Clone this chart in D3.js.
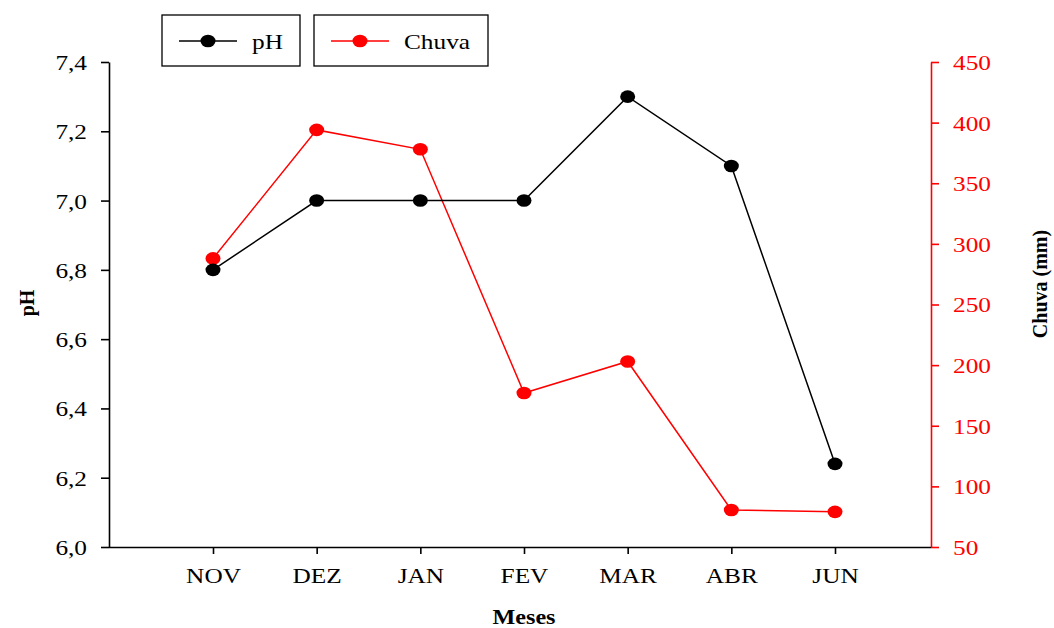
<!DOCTYPE html>
<html>
<head>
<meta charset="utf-8">
<script src="https://cdn.jsdelivr.net/npm/d3@7"></script>
<style>
  html, body { margin: 0; padding: 0; background: #fff; }
  svg { display: block; }
  text { font-family: "Liberation Serif", "Times New Roman", serif; }
</style>
</head>
<body>
<svg id="chart" width="1054" height="628"></svg>
<script>
// Monthly pH and rainfall
const months = ["NOV", "DEZ", "JAN", "FEV", "MAR", "ABR", "JUN"];
const phValues = [6.8, 7.0, 7.0, 7.0, 7.3, 7.1, 6.24];
const chuvaValues = [288, 394, 378, 177, 203, 80.5, 79];
const phTicks = [6.0, 6.2, 6.4, 6.6, 6.8, 7.0, 7.2, 7.4];
const chuvaTicks = [50, 100, 150, 200, 250, 300, 350, 400, 450];

const svg = d3.select("#chart");
const plotLeft = 109, plotRight = 931, plotTop = 62, plotBottom = 547;
const stretch = 1.15;      // wide glyph rendering
const fontSize = 22;
const red = "#ff0000";

// x: month index positions along the bottom axis
const x = d3.scaleLinear().domain([0, 6]).range([213, 835]);
const yPh = d3.scaleLinear().domain([6.0, 7.4]).range([plotBottom, plotTop]);
const yChuva = d3.scaleLinear().domain([50, 450]).range([plotBottom, plotTop]);

const fmtPh = d => d3.format(".1f")(d).replace(".", ",");

// Left axis (pH)
const gL = svg.append("g").attr("transform", `translate(${plotLeft},0)`)
  .call(d3.axisLeft(yPh).tickValues(phTicks).tickFormat(fmtPh).tickSize(8).tickSizeOuter(0));
gL.select(".domain").attr("stroke", "#000").attr("stroke-width", 1.6);
gL.selectAll(".tick line").attr("stroke", "#000").attr("stroke-width", 1.6);
gL.selectAll(".tick text")
  .attr("x", null).attr("dy", "0.34em")
  .attr("transform", `translate(-22,0) scale(${stretch},1)`)
  .attr("text-anchor", "end")
  .attr("font-size", fontSize).attr("fill", "#000");

// Right axis (Chuva)
const gR = svg.append("g").attr("transform", `translate(${plotRight},0)`)
  .call(d3.axisRight(yChuva).tickValues(chuvaTicks).tickFormat(d3.format("d")).tickSize(8).tickSizeOuter(0));
gR.select(".domain").attr("stroke", red).attr("stroke-width", 1.6);
gR.selectAll(".tick line").attr("stroke", red).attr("stroke-width", 1.6);
gR.selectAll(".tick text")
  .attr("x", null).attr("dy", "0.34em")
  .attr("transform", `translate(22,0) scale(${stretch},1)`)
  .attr("text-anchor", "start")
  .attr("font-size", fontSize).attr("fill", red);

// Bottom axis (months)
const gB = svg.append("g").attr("transform", `translate(0,${plotBottom})`)
  .call(d3.axisBottom(x).tickValues(d3.range(months.length)).tickFormat(i => months[i]).tickSize(7).tickSizeOuter(0));
gB.select(".domain").attr("d", `M${plotLeft},0.5H${plotRight}`).attr("stroke", "#000").attr("stroke-width", 1.6);
gB.selectAll(".tick line").attr("stroke", "#000").attr("stroke-width", 1.6);
gB.selectAll(".tick text")
  .attr("y", null).attr("dy", null)
  .attr("transform", `translate(0,36) scale(${stretch},1)`)
  .attr("text-anchor", "middle")
  .attr("font-size", fontSize).attr("fill", "#000");

// Series lines and markers
function drawSeries(values, yScale, color) {
  const line = d3.line().x((d, i) => x(i)).y(d => yScale(d));
  svg.append("path").datum(values)
    .attr("d", line).attr("fill", "none")
    .attr("stroke", color).attr("stroke-width", 1.5);
  svg.append("g").selectAll("ellipse").data(values).join("ellipse")
    .attr("cx", (d, i) => x(i)).attr("cy", d => yScale(d))
    .attr("rx", 7.5).attr("ry", 6.3).attr("fill", color);
}
drawSeries(chuvaValues, yChuva, red);
drawSeries(phValues, yPh, "#000");

// Axis titles
svg.append("text")
  .attr("transform", `translate(524,624) scale(${stretch},1)`)
  .attr("text-anchor", "middle").attr("font-weight", "bold").attr("font-size", 21)
  .text("Meses");
svg.append("text")
  .attr("transform", `translate(34,303) rotate(-90)`)
  .attr("text-anchor", "middle").attr("font-weight", "bold").attr("font-size", 20)
  .text("pH");
svg.append("text")
  .attr("transform", `translate(1047,284) rotate(-90)`)
  .attr("text-anchor", "middle").attr("font-weight", "bold").attr("font-size", 20)
  .text("Chuva (mm)");

// Legend: two boxed entries
const legendItems = [
  { label: "pH", color: "#000", x0: 162, w: 138 },
  { label: "Chuva", color: red, x0: 314, w: 174 }
];
const lg = svg.append("g").selectAll("g").data(legendItems).join("g")
  .attr("transform", d => `translate(${d.x0},15)`);
lg.append("rect").attr("width", d => d.w).attr("height", 51)
  .attr("fill", "#fff").attr("stroke", "#000").attr("stroke-width", 1.3);
lg.append("line").attr("x1", 17).attr("x2", 75).attr("y1", 26).attr("y2", 26)
  .attr("stroke", d => d.color).attr("stroke-width", 1.5);
lg.append("ellipse").attr("cx", 46).attr("cy", 26).attr("rx", 7.5).attr("ry", 6.3)
  .attr("fill", d => d.color);
lg.append("text")
  .attr("transform", `translate(90,34) scale(${stretch},1)`)
  .attr("font-size", fontSize).attr("fill", "#000")
  .text(d => d.label);
</script>
</body>
</html>
